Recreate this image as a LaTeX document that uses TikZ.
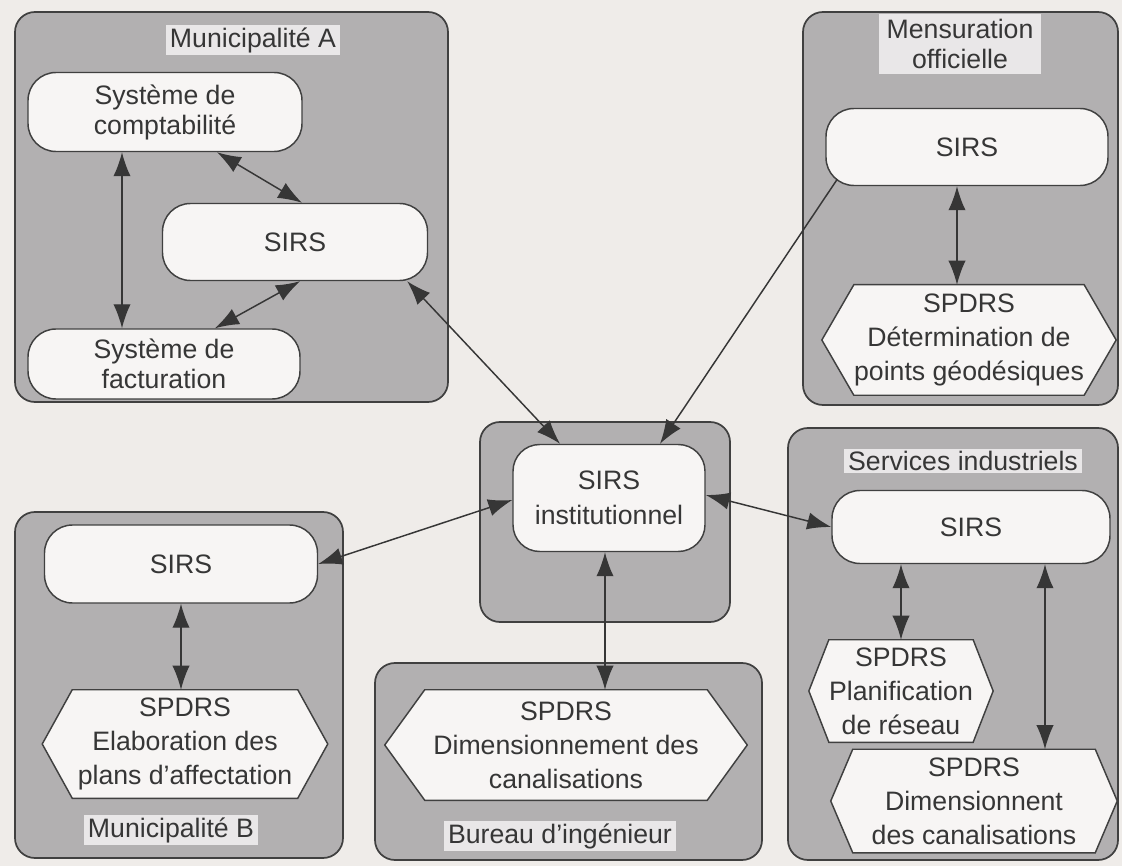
\documentclass[tikz,border=0pt]{standalone}
\usepackage{fontspec}
\setmainfont{Liberation Sans}
\usetikzlibrary{calc,arrows.meta}

\definecolor{paper}{HTML}{EFECE9}
\definecolor{groupfill}{HTML}{B2B0B1}
\definecolor{boxfill}{HTML}{F7F5F4}
\definecolor{labelfill}{HTML}{E9E7E8}
\definecolor{ink}{HTML}{363636}
\definecolor{edge}{HTML}{404040}

\pgfdeclarelayer{back}
\pgfdeclarelayer{hexes}
\pgfsetlayers{back,hexes,main}

\tikzset{
  size/.style 2 args={minimum width=#1*0.75pt, minimum height=#2*0.75pt},
  txt/.style={font=\fontsize{20}{25.5}\selectfont, text=ink, align=center},
  group/.style={draw=edge, line width=1.3pt, fill=groupfill, rounded corners=15pt, inner sep=0pt},
  pill/.style={txt, draw=edge, line width=1.1pt, fill=boxfill, rounded corners=21pt, inner sep=0pt},
  hexbody/.style={txt, inner sep=0pt},
  hexline/.style={draw=edge, line width=1.1pt, fill=boxfill, line join=miter},
  grouptitle/.style={txt, fill=labelfill, inner xsep=3pt, inner ysep=2pt},
  link/.style={draw=ink, line width=1.1pt},
  tip/.tip={Latex[length=18pt,width=13pt]},
  dbl/.style={link, tip-tip},
  one/.style={link, -tip},
}

% hexagonal outline around a text node: flat top and bottom, pointed ends
\newcommand\hexoutline[2]{%
  \begin{pgfonlayer}{hexes}
    \draw[hexline] ($(#1.west)+(-#2,0)$) -- (#1.north west) -- (#1.north east)
      -- ($(#1.east)+(#2,0)$) -- (#1.south east) -- (#1.south west) -- cycle;
  \end{pgfonlayer}}

\begin{document}
\begin{tikzpicture}[x=0.75pt,y=-0.75pt]
\useasboundingbox (0,0) rectangle (1122,866);

% paper and organisation frames
\begin{pgfonlayer}{back}
  \fill[paper] (0,0) rectangle (1122,866);
  \node[group, size={433}{390}] (gA) at (231.5,207) {};
  \node[group, size={315}{393}] (gM) at (960.5,208.5) {};
  \node[group, size={250}{200}] (gC) at (605,522) {};
  \node[group, size={328}{346}] (gB) at (179,685) {};
  \node[group, size={387}{197}] (gE) at (568.5,761.5) {};
  \node[group, size={330}{432}] (gS) at (953,644) {};
\end{pgfonlayer}

% frame titles
\node[grouptitle] (tA) at (253,40) {Municipalité A};
\node[grouptitle, font=\fontsize{20}{23}\selectfont, inner xsep=6pt, inner ysep=4pt] (tM) at (960,44) {Mensuration\\officielle};
\node[grouptitle] (tS) at (963,461) {Services industriels};
\node[grouptitle] (tB) at (171,830) {Municipalité B};
\node[grouptitle] (tE) at (560,836) {Bureau d'ingénieur};

% Municipalité A
\node[pill, size={274}{79}, font=\fontsize{20}{22.5}\selectfont] (compta) at (165,112) {Système de\\comptabilité};
\node[pill, size={265}{77}] (asirs) at (295,242) {SIRS};
\node[pill, size={272}{70}, font=\fontsize{20}{22.5}\selectfont] (fact) at (164,364) {Système de\\facturation};

% Mensuration officielle
\node[pill, size={282}{77}] (msirs) at (967,147) {SIRS};
\node[hexbody, size={222}{110}] (mhex) at (969,340) {SPDRS\\Détermination de\\points géodésiques};
\hexoutline{mhex}{32}

% institutional system
\node[pill, size={192}{107}, rounded corners=20pt, font=\fontsize{20}{26}\selectfont] (cpill) at (609,498) {SIRS\\institutionnel};

% Municipalité B
\node[pill, size={273}{78}] (bsirs) at (181,564) {SIRS};
\node[hexbody, size={225}{108}] (bhex) at (185,744) {SPDRS\\Elaboration des\\plans d'affectation};
\hexoutline{bhex}{30}

% Bureau d'ingénieur
\node[hexbody, size={282}{110}] (ehex) at (566,745) {SPDRS\\Dimensionnement des\\canalisations};
\hexoutline{ehex}{40}

% Services industriels
\node[pill, size={278}{73}] (ssirs) at (971,527) {SIRS};
\node[hexbody, size={142}{102}] (shex1) at (901,691) {SPDRS\\Planification\\de réseau};
\hexoutline{shex1}{20}
\node[hexbody, size={242}{103}] (shex2) at (974,801) {SPDRS\\Dimensionnent\\des canalisations};
\hexoutline{shex2}{22}

% links inside Municipalité A
\draw[dbl] ($(compta.south)+(-43,0)$) coordinate (v1) -- (v1 |- fact.north);
\draw[dbl] ($(compta.south)+(52,0)$) -- ($(asirs.north)+(7,0)$);
\draw[dbl] ($(fact.north)+(51,0)$) -- ($(asirs.south)+(5,0)$);

% links to the institutional system
\draw[dbl] ($(asirs.south east)+(-21,0)$) -- ($(cpill.north)+(-49,0)$);
\draw[one] ($(msirs.south west)+(12,-7)$) -- ($(cpill.north)+(51,0)$);
\draw[dbl] ($(cpill.west)+(0,2)$) -- (bsirs.east);
\draw[dbl] ($(cpill.east)+(0,-3)$) -- (ssirs.west);
\draw[dbl] ($(cpill.south)+(-4,0)$) coordinate (v2) -- (v2 |- ehex.north);

% links inside the other organisations
\draw[dbl] ($(msirs.south)+(-10,0)$) coordinate (v3) -- (v3 |- mhex.north);
\draw[dbl] (bsirs.south) -- (bsirs.south |- bhex.north);
\draw[dbl] (shex1.north |- ssirs.south) -- (shex1.north);
\draw[dbl] ($(ssirs.south)+(74,0)$) coordinate (v4) -- (v4 |- shex2.north);

\end{tikzpicture}
\end{document}
